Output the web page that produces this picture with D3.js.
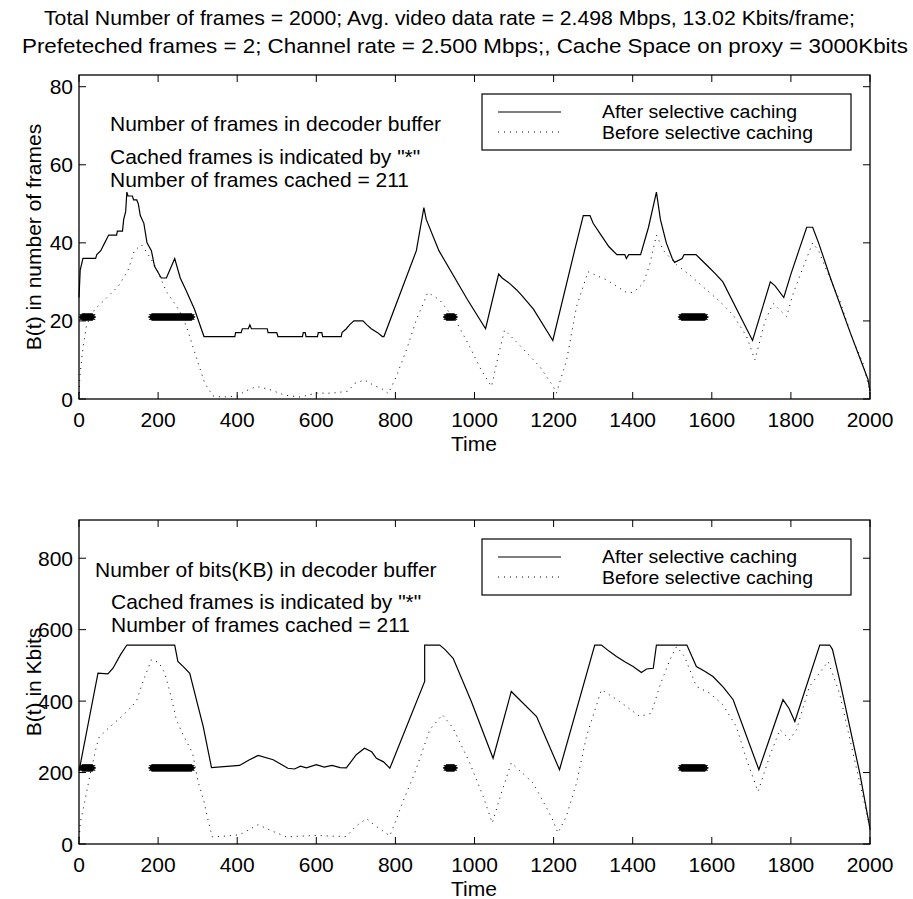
<!DOCTYPE html>
<html>
<head>
<meta charset="utf-8">
<script src="https://cdn.jsdelivr.net/npm/d3@7"></script>
<style>
  body { margin: 0; background: #fff; }
  text { font-family: "Liberation Sans", Arial, Helvetica, sans-serif; fill: #000; }
</style>
</head>
<body>
<div id="chart"></div>
<script>
// ticks
var timeTicks = [0, 200, 400, 600, 800, 1000, 1200, 1400, 1600, 1800, 2000];
var frameTicks = [0, 20, 40, 60, 80];
var kbitTicks = [0, 200, 400, 600, 800];

// title lines
var titleLines = [
  "Total Number of frames = 2000; Avg. video data rate = 2.498 Mbps, 13.02 Kbits/frame;",
  "Prefeteched frames = 2; Channel rate = 2.500 Mbps;, Cache Space on proxy = 3000Kbits"
];
var legendLabels = ["After selective caching", "Before selective caching"];

// B(t) in frames, after selective caching  [time, frames]
var afterFrames = [[0,26],[3,33],[10,36],[42,36],[45,37],[55,38],[60,39],[65,40],[70,41],[75,42],[95,42],[97,43],[110,43],[113,46],[118,48],[121,53],[124,52],[135,52],[138,51],[146,51],[150,50],[155,47],[164,45],[172,40],[183,38],[191,34],[208,31],[221,31],[242,36],[256,31],[270,28],[292,23],[316,16],[394,16],[396,17],[410,17],[413,18],[428,18],[432,19],[436,18],[476,18],[478,17],[500,17],[503,16],[565,16],[567,17],[572,17],[574,16],[603,16],[605,17],[614,17],[616,16],[663,16],[665,17],[676,18],[684,19],[695,20],[718,20],[728,19],[739,18],[755,17],[767,16],[771,16],[853,38],[872,49],[878,46],[910,38],[982,25.5],[1028,18],[1061,32],[1070,31],[1090,29.5],[1106,28],[1120,26.5],[1149,23],[1198,15],[1253,38],[1275,47],[1292,47],[1300,45],[1320,42],[1340,39],[1360,37],[1380,37],[1384,36],[1390,37],[1420,37],[1440,44],[1460,53],[1470,46],[1485,40],[1500,36],[1506,35],[1525,36],[1530,37],[1560,37],[1570,36],[1590,34],[1610,32],[1628,30],[1703,15],[1748,30],[1760,29],[1782,26],[1800,32],[1820,38],[1840,44],[1855,44],[1870,40],[1900,31],[1950,17],[1995,5],[2000,2]];

// B(t) in frames, before selective caching
var beforeFrames = [[0,0],[2,5.7],[10,13],[19,19],[40,23],[69,25.8],[100,29],[124,33],[140,38],[158,39.5],[175,37],[196,33.5],[221,27.5],[245,24],[263,21],[280,16],[293,11.8],[318,4],[339,0.8],[360,0.5],[400,0.7],[420,2],[449,3.2],[480,2.5],[520,1],[560,0.5],[600,1.5],[640,1.5],[680,2],[697,4],[722,4.9],[745,3.5],[765,2.7],[782,1.4],[802,5.7],[828,12.6],[853,20.3],[882,27.3],[912,25.4],[954,19.8],[988,13.4],[1017,7.4],[1043,3.2],[1060,11],[1076,17.7],[1114,13.8],[1165,8.3],[1199,3.2],[1207,1.5],[1233,10],[1258,23.7],[1287,32.6],[1334,30.5],[1384,27.3],[1401,27.3],[1426,29.5],[1443,34.4],[1460,42],[1478,38],[1511,34.4],[1544,31.8],[1586,28],[1620,25],[1654,21.5],[1688,16],[1709,10],[1734,19.8],[1755,24.5],[1772,22.8],[1789,21.1],[1806,27.1],[1840,36.1],[1855,40],[1870,38],[1890,33],[1923,25.4],[1957,15.1],[1982,9.2],[1997,3.2],[2000,1]];

// B(t) in Kbits, after selective caching
var afterKbits = [[0,205],[2,215],[48,478],[73,476],[86,492],[105,530],[121,557],[242,557],[250,511],[265,495],[280,478],[300,390],[314,329],[335,214],[406,220],[430,235],[453,248],[491,236],[528,212],[545,210],[560,218],[575,213],[600,222],[620,215],[640,220],[660,214],[676,213],[701,250],[722,268],[740,258],[752,240],[770,230],[786,212],[874,455],[874,557],[912,557],[925,545],[946,520],[992,399],[1047,240],[1093,427],[1157,357],[1215,208],[1304,557],[1321,557],[1340,540],[1359,525],[1380,510],[1401,497],[1422,480],[1435,490],[1452,492],[1460,557],[1537,557],[1561,497],[1580,485],[1603,469],[1630,438],[1654,404],[1719,208],[1780,404],[1795,380],[1810,343],[1873,557],[1898,557],[1905,545],[1923,460],[1974,199],[1999,49],[2000,40]];

// B(t) in Kbits, before selective caching
var beforeKbits = [[0,0],[3,59],[14,115],[27,189],[44,273],[51,299],[75,325],[99,348],[122,372],[145,399],[162,455],[183,516],[202,508],[217,478],[234,408],[246,348],[263,306],[287,255],[301,175],[316,119],[326,68],[337,20],[370,22],[406,26],[430,40],[453,54],[491,35],[524,20],[560,22],[600,24],[640,22],[676,21],[700,50],[727,71],[752,49],[786,23],[802,68],[819,119],[849,199],[887,320],[919,362],[946,324],[988,227],[1022,133],[1045,59],[1068,143],[1093,227],[1148,171],[1194,77],[1211,31],[1232,77],[1258,171],[1283,301],[1321,432],[1367,399],[1418,357],[1447,366],[1468,441],[1494,516],[1511,553],[1531,525],[1561,441],[1595,422],[1628,390],[1662,329],[1688,236],[1717,147],[1746,245],[1772,320],[1797,292],[1814,320],[1847,441],[1894,511],[1923,422],[1957,255],[1982,133],[1997,59],[2000,40]];

// runs of cached frames (first, last) -> 211 frames
var cachedRuns = [[8,34],[184,285],[929,949],[1523,1583]];
var cacheLevelFrames = 21;
var cacheLevelKbits = 213;

var width = 913, height = 899;
var svg = d3.select("#chart").append("svg")
  .attr("width", width).attr("height", height);

var x = d3.scaleLinear().domain([0, 2000]).range([79, 870]);

// title (two lines, stretched to the width they take in the figure)
svg.append("text").attr("x", 44).attr("y", 25)
  .attr("textLength", 811).attr("lengthAdjust", "spacingAndGlyphs")
  .style("font-size", "21px").text(titleLines[0]);
svg.append("text").attr("x", 22).attr("y", 53)
  .attr("textLength", 886).attr("lengthAdjust", "spacingAndGlyphs")
  .style("font-size", "21px").text(titleLines[1]);

var cachedList = [];
cachedRuns.forEach(function (r) {
  d3.range(r[0], r[1] + 1).forEach(function (f) { cachedList.push(f); });
});

function panel(cfg) {
  var y = d3.scaleLinear().domain(cfg.domain).range([cfg.bottom, cfg.top]);
  var g = svg.append("g");

  // box
  g.append("rect").attr("x", 79).attr("y", cfg.top)
    .attr("width", 870 - 79).attr("height", cfg.bottom - cfg.top)
    .attr("fill", "none").attr("stroke", "#000").attr("stroke-width", 1.3);

  // ticks, inward on all four sides
  var tl = 7;
  g.selectAll(".xtb").data(timeTicks).enter().append("line")
    .attr("x1", function (d) { return x(d); }).attr("x2", function (d) { return x(d); })
    .attr("y1", cfg.bottom).attr("y2", cfg.bottom - tl).attr("stroke", "#000");
  g.selectAll(".xtt").data(timeTicks).enter().append("line")
    .attr("x1", function (d) { return x(d); }).attr("x2", function (d) { return x(d); })
    .attr("y1", cfg.top).attr("y2", cfg.top + tl).attr("stroke", "#000");
  g.selectAll(".ytl").data(cfg.ticks).enter().append("line")
    .attr("x1", 79).attr("x2", 79 + tl)
    .attr("y1", function (d) { return y(d); }).attr("y2", function (d) { return y(d); })
    .attr("stroke", "#000");
  g.selectAll(".ytr").data(cfg.ticks).enter().append("line")
    .attr("x1", 870).attr("x2", 870 - tl)
    .attr("y1", function (d) { return y(d); }).attr("y2", function (d) { return y(d); })
    .attr("stroke", "#000");

  // tick labels
  g.selectAll(".xl").data(timeTicks).enter().append("text")
    .attr("x", function (d) { return x(d); }).attr("y", cfg.bottom + 28)
    .attr("text-anchor", "middle").style("font-size", "21px")
    .text(function (d) { return d; });
  g.selectAll(".yl").data(cfg.ticks).enter().append("text")
    .attr("x", 73).attr("y", function (d) { return y(d) + 7.5; })
    .attr("text-anchor", "end").style("font-size", "21px")
    .text(function (d) { return d; });

  g.append("text").attr("x", 474).attr("y", cfg.bottom + 52)
    .attr("text-anchor", "middle").style("font-size", "21px").text("Time");
  g.append("text")
    .attr("transform", "translate(" + cfg.ylabX + "," + ((cfg.top + cfg.bottom) / 2) + ") rotate(-90)")
    .attr("text-anchor", "middle").style("font-size", "21px").text(cfg.ylabel);

  var line = d3.line()
    .x(function (d) { return x(d[0]); })
    .y(function (d) { return y(d[1]); });

  g.append("path").datum(cfg.before).attr("d", line)
    .attr("fill", "none").attr("stroke", "#000").attr("stroke-width", 1)
    .attr("stroke-dasharray", "1 5");
  g.append("path").datum(cfg.after).attr("d", line)
    .attr("fill", "none").attr("stroke", "#000").attr("stroke-width", 1.2);

  // cached frames "*"
  var s = 3.5, s2 = 2.5;
  var star = "M" + (-s) + ",0L" + s + ",0M0," + (-s) + "L0," + s +
    "M" + (-s2) + "," + (-s2) + "L" + s2 + "," + s2 +
    "M" + (-s2) + "," + s2 + "L" + s2 + "," + (-s2);
  g.selectAll(".star").data(cachedList).enter().append("path")
    .attr("transform", function (d) { return "translate(" + x(d) + "," + y(cfg.cacheLevel) + ")"; })
    .attr("d", star).attr("stroke", "#000").attr("stroke-width", 1).attr("fill", "none");

  // annotations
  cfg.notes.forEach(function (n) {
    g.append("text").attr("x", n[0]).attr("y", n[1])
      .style("font-size", "21px").text(n[2]);
  });

  // legend
  var lt = cfg.legendTop;
  g.append("rect").attr("x", 482).attr("y", lt).attr("width", 369).attr("height", 56)
    .attr("fill", "#fff").attr("stroke", "#000").attr("stroke-width", 1.2);
  g.append("line").attr("x1", 498).attr("x2", 561).attr("y1", lt + 18).attr("y2", lt + 18)
    .attr("stroke", "#000").attr("stroke-width", 1.2);
  g.append("line").attr("x1", 498).attr("x2", 561).attr("y1", lt + 38).attr("y2", lt + 38)
    .attr("stroke", "#000").attr("stroke-width", 1).attr("stroke-dasharray", "1 5");
  g.append("text").attr("x", 602).attr("y", lt + 24).style("font-size", "18px")
    .attr("textLength", 195).attr("lengthAdjust", "spacingAndGlyphs")
    .text(legendLabels[0]);
  g.append("text").attr("x", 602).attr("y", lt + 45).style("font-size", "18px")
    .attr("textLength", 211).attr("lengthAdjust", "spacingAndGlyphs")
    .text(legendLabels[1]);
}

panel({
  top: 75, bottom: 399, domain: [0, 83], ticks: frameTicks,
  ylabel: "B(t) in number of frames", ylabX: 41,
  after: afterFrames, before: beforeFrames, cacheLevel: cacheLevelFrames,
  legendTop: 94,
  notes: [[110, 131, "Number of frames in decoder buffer"],
          [110, 164, "Cached frames is indicated by \"*\""],
          [110, 187, "Number of frames cached = 211"]]
});

panel({
  top: 520, bottom: 844, domain: [0, 907], ticks: kbitTicks,
  ylabel: "B(t) in Kbits", ylabX: 41,
  after: afterKbits, before: beforeKbits, cacheLevel: cacheLevelKbits,
  legendTop: 539,
  notes: [[95, 577, "Number of bits(KB) in decoder buffer"],
          [111, 609, "Cached frames is indicated by \"*\""],
          [111, 632, "Number of frames cached = 211"]]
});
</script>
</body>
</html>
